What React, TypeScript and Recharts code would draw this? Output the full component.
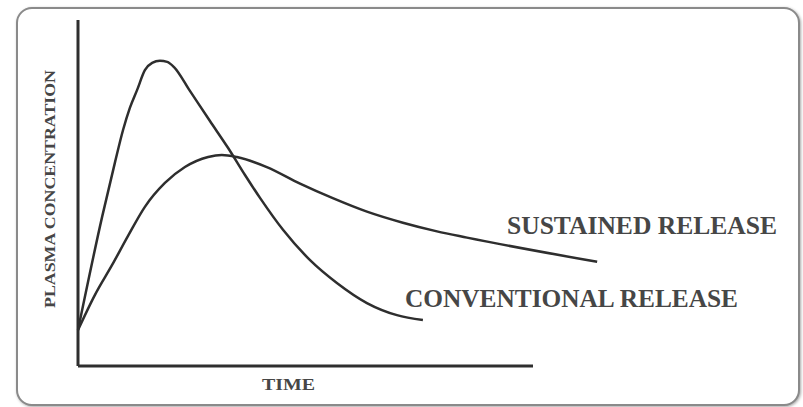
import * as React from "react";
import { LineChart, Line, XAxis, YAxis, ReferenceLine, Customized } from "recharts";

// time (arbitrary units, x-axis ends at 10) vs plasma concentration (axis top = 100)
const conventionalTime = [
  0, 0.53, 0.81, 0.99, 1.14, 1.3, 1.47, 1.63, 1.8, 1.96, 2.11, 2.46, 2.9, 3.3, 3.67, 4.0, 4.51, 5.1, 5.69, 6.35,
  7.01, 7.58,
];
const conventionalConc = [
  10.4, 43.1, 58.7, 68.2, 74.6, 79.8, 85.5, 87.6, 88.2, 87.9, 86.4, 79.5, 70.8, 63.0, 55.2, 48.6, 39.3, 30.6, 24.0,
  18.2, 14.7, 13.3,
];

const sustainedTime = [0, 0.37, 0.75, 1.1, 1.47, 1.91, 2.35, 2.86, 3.16, 3.49, 4.15, 4.88, 5.6, 6.35, 7.14, 7.89, 8.55, 11.41];
const sustainedConc = [10.4, 20.5, 29.2, 37.6, 46.0, 52.9, 57.5, 60.4, 61.0, 60.4, 57.5, 52.7, 48.5, 44.6, 41.4, 38.9, 37.1, 30.1];

const xAxisEnd = 10;
const yAxisTop = 100;

const conventional = conventionalTime.map((t, i) => ({ t, c: conventionalConc[i] }));
const sustained = sustainedTime.map((t, i) => ({ t, c: sustainedConc[i] }));

const ink = "#2e2e2e";
const textInk = "#464646";
const serif = "'Liberation Serif', 'DejaVu Serif', serif";

function Labels() {
  return (
    <g fontFamily={serif} fontWeight="bold" fill={textInk}>
      <text x={507} y={234} fontSize={26} textLength={270} lengthAdjust="spacingAndGlyphs">
        SUSTAINED RELEASE
      </text>
      <text x={405} y={307} fontSize={26} textLength={333} lengthAdjust="spacingAndGlyphs">
        CONVENTIONAL RELEASE
      </text>
      <text x={262} y={390} fontSize={17} textLength={53} lengthAdjust="spacingAndGlyphs">
        TIME
      </text>
      <text
        x={0}
        y={0}
        fontSize={15}
        textLength={238}
        lengthAdjust="spacingAndGlyphs"
        transform="translate(55 308) rotate(-90)"
      >
        PLASMA CONCENTRATION
      </text>
    </g>
  );
}

export default function App() {
  return (
    <div style={{ position: "absolute", left: 0, top: 0, width: 803, height: 407, background: "#fff" }}>
      <div
        style={{
          position: "absolute",
          left: 16,
          top: 7,
          width: 780,
          height: 395,
          border: "2px solid #8a8a8a",
          borderRadius: 16,
          boxShadow: "1px 1px 3px rgba(0,0,0,0.35)",
          background: "#fff",
        }}
      />
      <div style={{ position: "absolute", left: 0, top: 0 }}>
        <LineChart width={803} height={407} margin={{ top: 20, right: 179, bottom: 41, left: 78 }}>
          <XAxis type="number" dataKey="t" domain={[0, 12]} hide />
          <YAxis type="number" dataKey="c" domain={[0, yAxisTop]} hide />
          <ReferenceLine
            segment={[{ x: 0, y: 0 }, { x: 0, y: yAxisTop }]}
            stroke={ink}
            strokeWidth={3}
            ifOverflow="visible"
          />
          <ReferenceLine
            segment={[{ x: 0, y: 0 }, { x: xAxisEnd, y: 0 }]}
            stroke={ink}
            strokeWidth={3}
            ifOverflow="visible"
          />
          <Line
            data={conventional}
            dataKey="c"
            type="monotone"
            stroke={ink}
            strokeWidth={2.5}
            dot={false}
            isAnimationActive={false}
          />
          <Line
            data={sustained}
            dataKey="c"
            type="monotone"
            stroke={ink}
            strokeWidth={2.5}
            dot={false}
            isAnimationActive={false}
          />
          <Customized component={<Labels />} />
        </LineChart>
      </div>
    </div>
  );
}
